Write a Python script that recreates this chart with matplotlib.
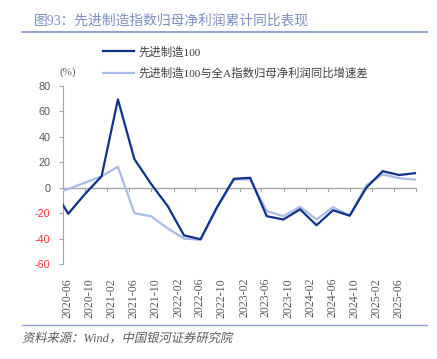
import matplotlib
matplotlib.use("Agg")
import matplotlib.pyplot as plt
import pandas as pd
from matplotlib.textpath import TextPath
from matplotlib.patches import PathPatch
from matplotlib.font_manager import FontProperties
from matplotlib.transforms import Affine2D, IdentityTransform

plt.rcParams['font.family'] = ['Liberation Serif', 'Noto Sans CJK SC', 'DejaVu Sans']

dates = ["2020-03-31", "2020-06-30", "2020-09-30", "2020-12-31",
         "2021-03-31", "2021-06-30", "2021-09-30", "2021-12-31",
         "2022-03-31", "2022-06-30", "2022-09-30", "2022-12-31",
         "2023-03-31", "2023-06-30", "2023-09-30", "2023-12-31",
         "2024-03-31", "2024-06-30", "2024-09-30", "2024-12-31",
         "2025-03-31", "2025-06-30", "2025-09-30"]
adv100 = [1, -20.5, -5, 9, 69.5, 22.5, 3, -14.5, -37.5, -40.5, -15, 7, 7.8,
          -22.4, -25, -17, -29.5, -17.7, -22, 0, 13, 10, 11.5]
diff = [-5, -1, 4, 9, 16.5, -20, -22.5, -32, -40, -41, -16, 6.5, 6.5,
        -18.4, -22.4, -15, -25, -15.3, -22, 2, 10.5, 7.5, 6.3]
tick_labels = ["2020-06", "2020-10", "2021-02", "2021-06", "2021-10", "2022-02",
               "2022-06", "2022-10", "2023-02", "2023-06", "2023-10", "2024-02",
               "2024-06", "2024-10", "2025-02", "2025-06"]
yticks = [80, 60, 40, 20, 0, -20, -40, -60]
series_names = ["先进制造100", "先进制造100与全A指数归母净利润同比增速差"]
title = "图93：先进制造指数归母净利润累计同比表现"
source_parts = [("资料来源：", "cjk"), ("Wind", "latin"), ("，中国银河证券研究院", "cjk")]

x = pd.to_datetime(dates)
dark = "#0f318c"
light = "#a7bbe6"
gray = "#595959"
axis_gray = "#a6a6a6"

W, H = 437, 359
fig = plt.figure(figsize=(W/100, H/100), dpi=100)
ax = fig.add_axes([63/W, 1-264/H, (416-63)/W, (264-86)/H])

ax.plot(x, diff, color=light, lw=1.6, label=series_names[1], zorder=3)
ax.plot(x, adv100, color=dark, lw=1.6, label=series_names[0], zorder=4)

xmin = pd.Timestamp("2020-06-01")
xmax = pd.Timestamp("2025-10-01")
ax.set_xlim(xmin, xmax)
ax.set_ylim(-60, 80)

for s in ["top", "right", "bottom"]:
    ax.spines[s].set_visible(False)
ax.spines["left"].set_color(axis_gray)
ax.spines["left"].set_linewidth(0.8)
ax.axhline(0, color=axis_gray, lw=1.0, zorder=2)

# x ticks
tick_pos = pd.to_datetime([t + "-01" for t in tick_labels] + ["2025-10-01"])
for tp in tick_pos[1:]:
    ax.plot([tp, tp], [0, -2.4], color=axis_gray, lw=0.8, clip_on=False, zorder=2)
ax.set_xticks(pd.to_datetime([t + "-01" for t in tick_labels]) + pd.Timedelta(days=25))
ax.set_xticklabels(tick_labels, rotation=90, fontsize=8.6, color=gray)
ax.tick_params(axis="x", length=0, pad=10)

ax.set_yticks(yticks)
ax.set_yticklabels([str(v) for v in yticks], fontsize=7.8, family=['Liberation Sans'])
for lab, v in zip(ax.get_yticklabels(), yticks):
    lab.set_color("#ff3333" if v < 0 else gray)
ax.tick_params(axis="y", length=3, color=axis_gray, width=0.8, pad=6)

# legend
h = ax.get_legend_handles_labels()
handles = {l: hh for hh, l in zip(*h)}
leg = fig.legend([handles[series_names[0]], handles[series_names[1]]], series_names,
                 loc="upper left", bbox_to_anchor=(103/W, 1-46/H), frameon=False,
                 fontsize=8.2, handlelength=2.7, handletextpad=0.45, labelspacing=0.9,
                 borderaxespad=0, borderpad=0.0)
for t in leg.get_texts():
    t.set_color("#404040")

fig.text(60/W, 1-72/H, "(%)", fontsize=8, color=gray, ha="left", va="center")

fig.text(34/W, 1-21/H, title, fontsize=9.9, color="#7d8fc2", ha="left", va="center")
fig.add_artist(plt.Line2D([22/W, 427/W], [1-32/H, 1-32/H], color="#8fa1cc", lw=1.4))
fig.add_artist(plt.Line2D([22/W, 427/W], [1-325/H, 1-325/H], color="#8fa1cc", lw=1.0))

# italic (sheared) footer text
fs_px = 12.3
xcur = 22.0
base_y = H - 342.0
fp = {"cjk": FontProperties(family="Noto Sans CJK SC"),
      "latin": FontProperties(family="Liberation Serif", style="italic")}
for s, kind in source_parts:
    tp = TextPath((0, 0), s, size=fs_px, prop=fp[kind])
    ext = tp.get_extents()
    adv = ext.x1 if kind == "latin" else fs_px * len(s)
    tr = Affine2D().skew_deg(12 if kind == "cjk" else 0, 0).translate(xcur, base_y)
    path = tr.transform_path(tp)
    patch = PathPatch(path, facecolor="#595959", edgecolor="none",
                      transform=IdentityTransform())
    fig.add_artist(patch)
    xcur += adv + (0.5 if kind == "latin" else 0)

fig.savefig("out.png", dpi=100)
